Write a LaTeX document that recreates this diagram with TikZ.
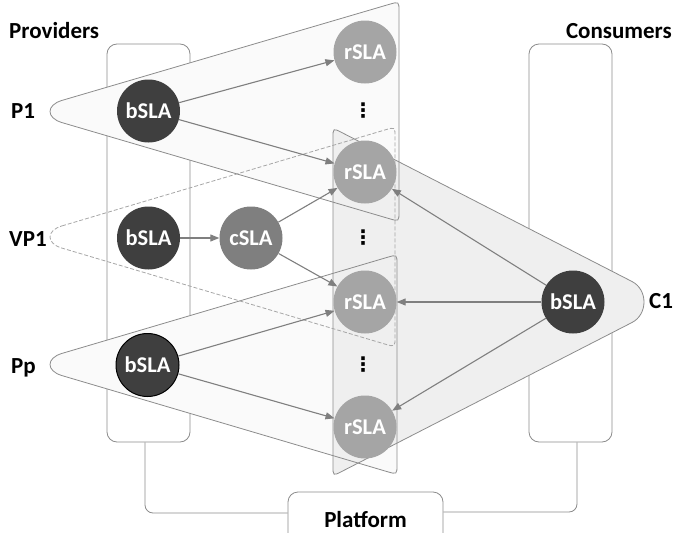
\documentclass[tikz,border=0pt]{standalone}
\usepackage{fontspec}
\setmainfont{Carlito}
\newfontfamily\dejavu{DejaVu Sans}
\usetikzlibrary{arrows.meta}
\definecolor{dark}{HTML}{3F3F3F}
\definecolor{mid}{HTML}{7F7F7F}
\definecolor{light}{HTML}{A5A5A5}
\definecolor{edgec}{HTML}{8C8C8C}
\definecolor{dashc}{HTML}{A6A6A6}
\definecolor{pfill}{HTML}{FAFAFA}
\definecolor{cfill}{HTML}{EFEFEF}
\newcommand\provtri[2]{({62},{#1-11.1}) -- ({#2-9.6},{#1-107.2}) .. controls ({#2},{#1-110}) .. ({#2},{#1-100}) -- ({#2},{#1+100}) .. controls ({#2},{#1+110}) .. ({#2-9.6},{#1+107.2}) -- (62,{#1+11.1}) .. controls (46,{#1+6.4}) and (46,{#1-6.4}) .. cycle}
\newcommand\contri{(333,138) .. controls (333,128) .. (341.9,132.6) -- (632,281.5) .. controls (648,289.7) and (648,314.3) .. (632,322.5) -- (341.9,471.4) .. controls (333,476) .. (333,466) -- cycle}
\begin{document}
\begin{tikzpicture}[x=1pt,y=-1pt,
  sla/.style={circle, minimum size=63pt, inner sep=0pt, text=white, font=\fontsize{22.5}{26}\selectfont\bfseries},
  bnode/.style={sla, fill=dark},
  cnode/.style={sla, fill=mid},
  rnode/.style={sla, fill=light},
  colbox/.style={draw=edgec, line width=0.8pt, rounded corners=10pt, minimum width=83pt, minimum height=398pt},
  lbl/.style={font=\fontsize{23}{27}\selectfont\bfseries, inner sep=0pt},
  vdots/.style={font=\dejavu\bfseries\fontsize{20}{23}\selectfont, inner sep=0pt},
  arr/.style={draw=mid, line width=1.1pt, -{Triangle[length=9pt,width=7pt]}},
  outl/.style={draw=edgec, line width=0.8pt},
  link/.style={draw=edgec, line width=0.8pt, rounded corners=8pt}]
\useasboundingbox (0,0) rectangle (673,533);
% columns
\node[colbox] (prov) at (148.5,243) {};
\node[colbox] (cons) at (570.5,243) {};
% fills
\fill[pfill] \provtri{111.5}{399};
\fill[pfill] \provtri{364.5}{397};
\fill[cfill] \contri;
% outlines
\draw[outl] \provtri{111.5}{399};
\draw[outl] \provtri{364.5}{397};
\draw[outl] \contri;
\draw[draw=dashc, line width=0.8pt, dash pattern=on 4pt off 2pt] \provtri{237}{395};
% labels
\node[lbl, anchor=base west] (lprov) at (9,38) {Providers};
\node[lbl, anchor=base east] (lcons) at (672,38) {Consumers};
\node[lbl, anchor=base west] (lp1) at (11,118) {P1};
\node[lbl, anchor=base west] (lvp1) at (9,246) {VP1};
\node[lbl, anchor=base west] (lpp) at (11,373) {Pp};
\node[lbl, anchor=base west] (lc1) at (649,308) {C1};
% platform
\node[draw=edgec, line width=0.8pt, rounded corners=10pt, minimum width=155pt, minimum height=60pt, inner sep=0pt] (plat) at (365.5,522) {};
\node[lbl, anchor=base] (lplat) at (365.5,527) {Platform};
\coordinate (pl) at (145,0);
\coordinate (pr) at (577,0);
\draw[link] (prov.south -| pl) |- ([yshift=9pt]plat.west);
\draw[link] (cons.south -| pr) |- ([yshift=10pt]plat.east);
% nodes
\node[bnode] (pb1) at (148.5,111) {bSLA};
\node[bnode] (vb) at (148.5,238) {bSLA};
\node[cnode] (cs) at (251,238) {cSLA};
\node[bnode, draw=black, line width=1pt] (ppb) at (147.5,365) {bSLA};
\node[rnode] (r1) at (365,52) {rSLA};
\node[rnode] (r2) at (365,172) {rSLA};
\node[rnode] (r3) at (365,302) {rSLA};
\node[rnode] (r4) at (365,427) {rSLA};
\node[bnode] (cb) at (573,302) {bSLA};
\node[vdots] (d1) at (363,111) {⋮};
\node[vdots] (d2) at (363,238) {⋮};
\node[vdots] (d3) at (363,365) {⋮};
% arrows
\draw[arr] (pb1) -- (r1);
\draw[arr] (pb1) -- (r2);
\draw[arr] (vb) -- (cs);
\draw[arr] (cs) -- (r2);
\draw[arr] (cs) -- (r3);
\draw[arr] (ppb) -- (r3);
\draw[arr] (ppb) -- (r4);
\draw[arr] (cb) -- (r2);
\draw[arr] (cb) -- (r3);
\draw[arr] (cb) -- (r4);
\end{tikzpicture}
\end{document}
